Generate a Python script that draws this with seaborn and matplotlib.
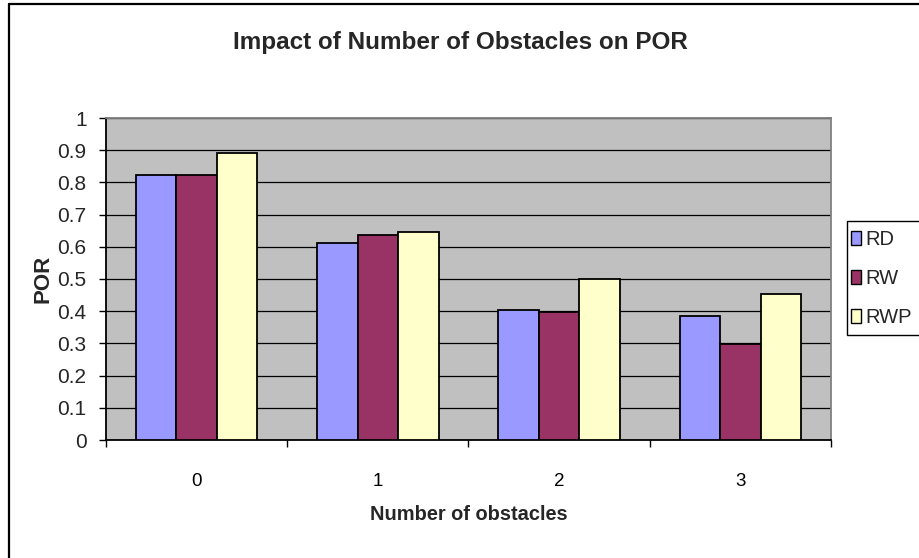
import matplotlib
matplotlib.use("Agg")
import matplotlib.pyplot as plt
from matplotlib.patches import Patch, Rectangle
from matplotlib.lines import Line2D
from matplotlib.ticker import FixedLocator
import seaborn as sns
import pandas as pd

# Data
obstacles = ["0", "1", "2", "3"]
methods = ["RD", "RW", "RWP"]
rd = [0.823, 0.612, 0.403, 0.386]
rw = [0.823, 0.636, 0.398, 0.297]
rwp = [0.892, 0.647, 0.499, 0.454]
colors = ["#9999FF", "#993366", "#FFFFCC"]
y_ticks = [0.0, 0.1, 0.2, 0.3, 0.4, 0.5, 0.6, 0.7, 0.8, 0.9, 1.0]
y_labels = ["0", "0.1", "0.2", "0.3", "0.4", "0.5", "0.6", "0.7", "0.8",
            "0.9", "1"]

df = pd.DataFrame({
    "obstacles": obstacles * 3,
    "method": [m for m in methods for _ in obstacles],
    "POR": rd + rw + rwp,
})

sns.set_theme(style="white")
plt.rcParams["font.family"] = ["Liberation Sans", "DejaVu Sans"]

W, H = 920, 558
fig = plt.figure(figsize=(W / 100, H / 100), dpi=100)
fig.patch.set_facecolor("white")

L, R, T, B = 106, 831, 118, 440
ax = fig.add_axes([L / W, 1 - B / H, (R - L) / W, (B - T) / H])
ax.set_facecolor("#C0C0C0")

sns.barplot(data=df, x="obstacles", y="POR", hue="method", order=obstacles,
            hue_order=methods, palette=colors, width=0.67, gap=0,
            edgecolor="black", linewidth=1.3, saturation=1, ax=ax,
            legend=False, zorder=3)

ax.set_xlim(-0.5, 3.5)
ax.set_ylim(0, 1)
ax.set_yticks(y_ticks, y_labels)
ax.yaxis.grid(True, color="black", linewidth=0.9, zorder=1)
ax.set_axisbelow(True)

# Category boundary ticks, labels centred without ticks
ax.xaxis.set_minor_locator(FixedLocator([-0.5, 0.5, 1.5, 2.5, 3.5]))
ax.tick_params(axis="x", which="major", length=0, pad=24, labelsize=13.5,
               colors="black")
ax.tick_params(axis="x", which="minor", length=5, width=1, color="black",
               direction="out", bottom=True)
ax.tick_params(axis="y", which="major", length=5, width=1, color="black",
               direction="out", left=True, pad=9, labelsize=15)

for side in ["left", "bottom"]:
    ax.spines[side].set_color("black")
    ax.spines[side].set_linewidth(1.3)
for side in ["top", "right"]:
    ax.spines[side].set_color("#808080")
    ax.spines[side].set_linewidth(1.3)
    ax.spines[side].set_visible(True)

ax.set_xlabel("Number of obstacles", fontsize=14.4, fontweight="bold")
ax.xaxis.set_label_coords(0.5, (B - 505) / (B - T))
ax.set_ylabel("POR", fontsize=16, fontweight="bold")
ax.yaxis.set_label_coords((54 - L) / (R - L), 0.5)

fig.text(0.5, 1 - 42 / H, "Impact of Number of Obstacles on POR",
         ha="center", va="center", fontsize=17.5, fontweight="bold")

# Legend with a box running off the right edge
fig.add_artist(Rectangle((847 / W, 1 - 335 / H), 90 / W, 114 / H,
                         transform=fig.transFigure, facecolor="white",
                         edgecolor="black", linewidth=1.0))
handles = [Patch(facecolor=c, edgecolor="black", linewidth=1.0) for c in colors]
fig.legend(handles, methods, loc="upper left",
           bbox_to_anchor=(851 / W, 1 - 230 / H), frameon=False,
           fontsize=14.5, handlelength=0.5, handleheight=0.7,
           handletextpad=0.2, labelspacing=1.0, borderpad=0,
           borderaxespad=0)

# Outer chart frame (left and top edges)
fig.add_artist(Line2D([9 / W, 9 / W], [0, 1 - 4 / H], transform=fig.transFigure,
                      color="black", linewidth=1.6))
fig.add_artist(Line2D([9 / W, 1], [1 - 4 / H, 1 - 4 / H],
                      transform=fig.transFigure, color="black", linewidth=1.6))

fig.savefig("out.png", dpi=100)
